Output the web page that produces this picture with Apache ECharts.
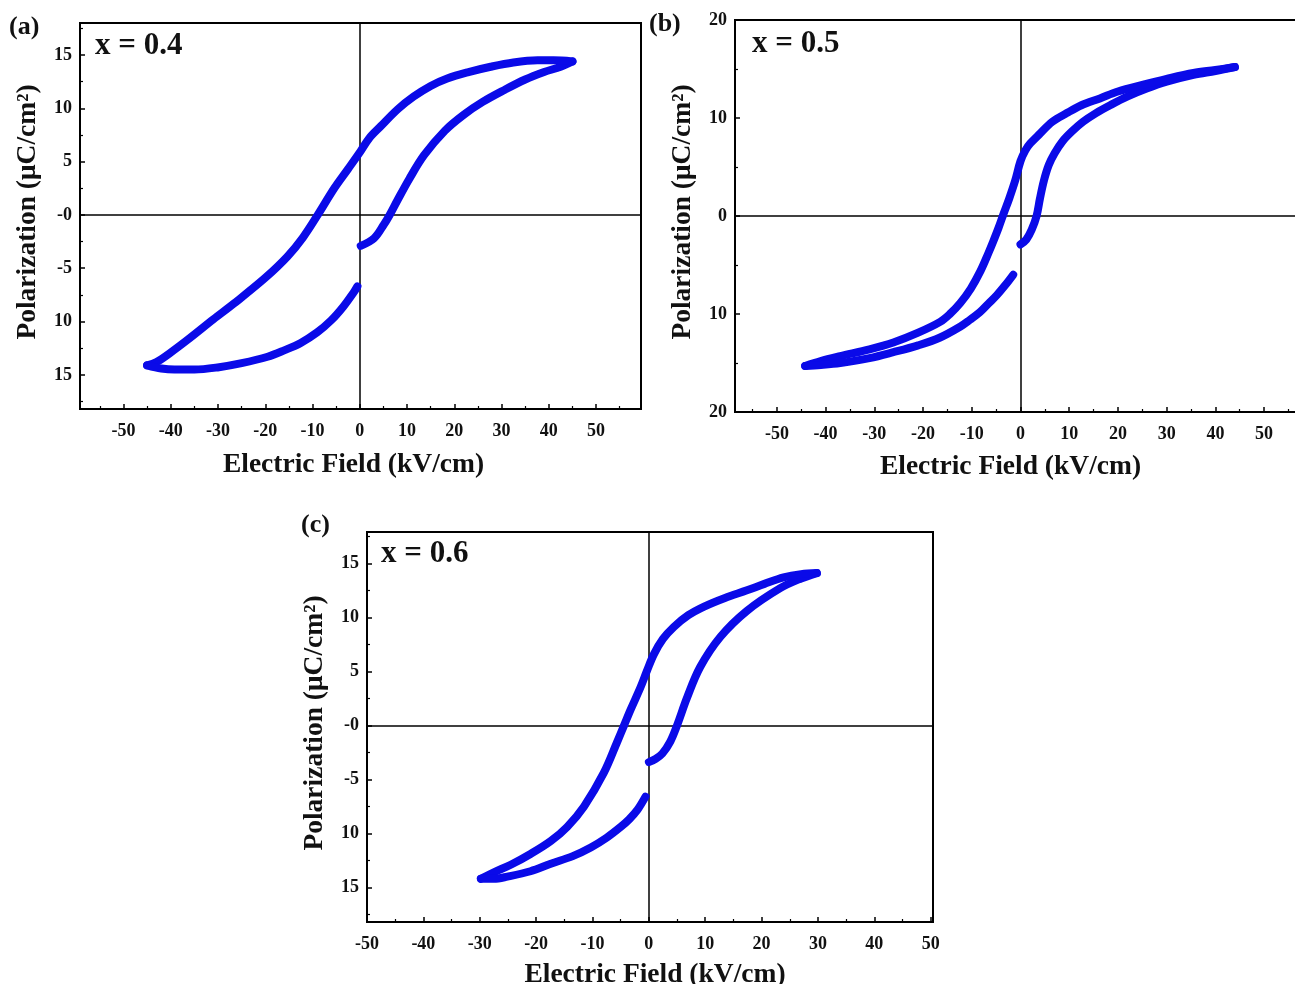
<!DOCTYPE html>
<html>
<head>
<meta charset="utf-8">
<title>P-E loops</title>
<script src="https://cdn.jsdelivr.net/npm/echarts@6.0.0/dist/echarts.min.js"></script>
<style>
  html, body { margin: 0; padding: 0; background: #fff; }
  #chart { width: 1295px; height: 984px; }
</style>
</head>
<body>
<div id="chart"></div>
<script>
  // tick values and the labels printed on the original figure
  const fieldTicks = [-50, -40, -30, -20, -10, 0, 10, 20, 30, 40, 50]
  const fieldMinorAB = [-55, -45, -35, -25, -15, -5, 5, 15, 25, 35, 45, 55]
  const fieldMinorC = [-45, -35, -25, -15, -5, 5, 15, 25, 35, 45]
  const polTicksAC = [-15, -10, -5, 0, 5, 10, 15]
  const polLabelsAC = ['15', '10', '-5', '-0', '5', '10', '15']
  const polMinorAC = [-17.5, -12.5, -7.5, -2.5, 2.5, 7.5, 12.5, 17.5]
  const polTicksB = [-20, -10, 0, 10, 20]
  const polLabelsB = ['20', '10', '0', '10', '20']
  const polMinorB = [-15, -5, 5, 15]

  // (a) x = 0.4
  const riseA_E = [0.2, 3.0, 5.1, 6.2, 8.0, 10.5, 13.6, 18, 22, 26, 30.5, 35, 39, 42.5, 45]
  const riseA_P = [-2.9, -2.2, -0.9, -0.1, 1.4, 3.4, 5.6, 7.9, 9.4, 10.6, 11.7, 12.7, 13.4, 13.9, 14.4]
  const fallA_E = [45, 41, 37.6, 32.5, 27.7, 23, 18.5, 15, 11.4, 8, 4.4, 2, 0.2, -2.5, -5.4, -8.9, -12, -15.3, -20, -26.6, -31, -36.4, -40, -43, -45]
  const fallA_P = [14.4, 14.5, 14.5, 14.3, 13.9, 13.4, 12.8, 12.1, 11.1, 9.9, 8.3, 7.2, 6.0, 4.3, 2.5, 0.0, -2.1, -3.9, -5.9, -8.3, -9.8, -11.7, -12.9, -13.8, -14.1]
  const backA_E = [-45, -42, -39.2, -35, -30.1, -25, -19.5, -16, -12.5, -9, -6.1, -3.5, -1.2, -0.5]
  const backA_P = [-14.1, -14.4, -14.5, -14.5, -14.3, -13.9, -13.3, -12.7, -12.0, -11.0, -9.9, -8.6, -7.2, -6.7]

  // (b) x = 0.5
  const riseB_E = [0, 1.2, 2.3, 3.3, 4.0, 4.8, 5.8, 7, 8.6, 10.5, 12.8, 15.5, 18.4, 22, 25.9, 30, 35.5, 40, 44]
  const riseB_P = [-2.9, -2.4, -1.4, 0, 1.8, 3.6, 5.2, 6.4, 7.6, 8.6, 9.6, 10.5, 11.3, 12.2, 13.0, 13.7, 14.4, 14.8, 15.2]
  const fallB_E = [44, 40, 35.5, 30, 25.2, 20, 16.3, 12.5, 9.5, 6.5, 4, 2, 1, 0, -1.1, -2.3, -3.5, -4.5, -5.6, -6.6, -8.2, -10.2, -12.4, -14.5, -16.5, -21, -26.1, -31, -37, -41, -44.2]
  const fallB_P = [15.2, 14.9, 14.6, 14.0, 13.4, 12.7, 12.0, 11.3, 10.5, 9.6, 8.4, 7.4, 6.7, 5.6, 3.6, 1.8, 0.2, -1.2, -2.6, -3.8, -5.6, -7.4, -8.9, -10.0, -10.8, -11.9, -12.9, -13.6, -14.3, -14.8, -15.3]
  const backB_E = [-44.2, -41, -37, -31, -26.1, -21, -16.5, -12.4, -10.4, -8.3, -6.5, -4.9, -3.2, -1.5]
  const backB_P = [-15.3, -15.2, -15.0, -14.5, -13.9, -13.2, -12.4, -11.3, -10.6, -9.8, -8.9, -8.1, -7.1, -6.0]

  // (c) x = 0.6
  const riseC_E = [0, 1.2, 2.4, 3.8, 5.0, 6.8, 9.1, 12.7, 17.4, 23.3, 27, 29.8]
  const riseC_P = [-3.4, -3.1, -2.6, -1.5, 0.0, 2.6, 5.4, 8.2, 10.6, 12.7, 13.6, 14.1]
  const fallC_E = [29.8, 27, 23.9, 20.5, 17.4, 13.5, 9.8, 7, 4.4, 2.5, 0.9, -0.3, -1.5, -3.2, -4.4, -5.6, -8.0, -11.5, -14.5, -17.4, -21, -24.5, -27.5, -29.8]
  const fallC_P = [14.1, 14.0, 13.7, 13.1, 12.5, 11.8, 11.0, 10.2, 9.1, 8.0, 6.6, 5.1, 3.5, 1.5, 0.0, -1.5, -4.4, -7.5, -9.4, -10.7, -11.9, -12.9, -13.6, -14.2]
  const backC_E = [-29.8, -27.5, -25.1, -21, -17.4, -13.5, -10.3, -7.5, -5.0, -3.5, -2.0, -0.6]
  const backC_P = [-14.2, -14.2, -14.0, -13.5, -12.8, -12.1, -11.3, -10.4, -9.4, -8.7, -7.8, -6.6]

  const FONT = 'Liberation Serif'
  const BLUE = '#0a0ae8'

  function zip (xs, ys) {
    return xs.map((x, i) => [x, ys[i]])
  }

  function branch (idx, E, P, withZeroLines) {
    let s = {
      type: 'line',
      xAxisIndex: idx,
      yAxisIndex: idx,
      data: zip(E, P),
      smooth: 0.35,
      showSymbol: false,
      silent: true,
      z: 3,
      lineStyle: { color: BLUE, width: 8, cap: 'round', join: 'round' }
    }
    if (withZeroLines) {
      s.markLine = {
        silent: true,
        symbol: ['none', 'none'],
        label: { show: false },
        lineStyle: { color: '#000', width: 1.5, type: 'solid' },
        data: [{ xAxis: 0 }, { yAxis: 0 }],
        z: 2
      }
    }
    return s
  }

  function fieldAxis (grid, min, max, gap, pad) {
    return {
      type: 'value', gridIndex: grid, min: min, max: max, position: 'bottom',
      name: 'Electric Field (kV/cm)', nameLocation: 'middle', nameGap: gap,
      nameTextStyle: { fontFamily: FONT, fontWeight: 'bold', fontSize: 27.5, color: '#111', padding: pad },
      axisLine: { show: false, onZero: false },
      splitLine: { show: false },
      axisTick: { inside: true, length: 5, customValues: fieldTicks, lineStyle: { color: '#000', width: 1.5 } },
      axisLabel: {
        customValues: fieldTicks, margin: 13,
        fontFamily: FONT, fontWeight: 'bold', fontSize: 18, color: '#111'
      }
    }
  }

  function polAxis (grid, min, max, ticks, labels) {
    return {
      type: 'value', gridIndex: grid, min: min, max: max, position: 'left',
      name: 'Polarization (μC/cm²)', nameLocation: 'middle', nameRotate: 90, nameGap: 38,
      nameTextStyle: { fontFamily: FONT, fontWeight: 'bold', fontSize: 27.5, color: '#111', padding: [0, 0, 0, 8] },
      axisLine: { show: false, onZero: false },
      splitLine: { show: false },
      axisTick: { inside: true, length: 5, customValues: ticks, lineStyle: { color: '#000', width: 1.5 } },
      axisLabel: {
        customValues: ticks, margin: 8,
        fontFamily: FONT, fontWeight: 'bold', fontSize: 18, color: '#111',
        formatter: v => labels[ticks.indexOf(v)]
      }
    }
  }

  // small unlabeled axes that only carry the minor ticks
  function minorAxis (grid, min, max, ticks, pos) {
    return {
      type: 'value', gridIndex: grid, min: min, max: max, position: pos,
      axisLine: { show: false, onZero: false },
      splitLine: { show: false },
      axisLabel: { show: false },
      axisTick: { inside: true, length: 3, customValues: ticks, lineStyle: { color: '#000', width: 1.2 } }
    }
  }

  function text (label, left, top, size) {
    return {
      type: 'text', left: left, top: top,
      style: { text: label, fontFamily: FONT, fontWeight: 'bold', fontSize: size, fill: '#111' }
    }
  }

  // keep the grids exactly where they are placed (no shrinking to fit names)
  const gridStyle = {
    show: true, borderColor: '#000', borderWidth: 2, backgroundColor: 'transparent',
    containLabel: false, outerBoundsMode: 'none'
  }

  const option = {
    animation: false,
    backgroundColor: '#fff',
    grid: [
      Object.assign({ left: 80, top: 23, width: 561, height: 386 }, gridStyle),
      Object.assign({ left: 735, top: 20, width: 571, height: 392 }, gridStyle),
      Object.assign({ left: 367, top: 532, width: 566, height: 390 }, gridStyle)
    ],
    xAxis: [
      fieldAxis(0, -59.2, 59.5, 42, [0, 14, 0, 0]),
      fieldAxis(1, -58.6, 58.6, 41, [0, 20, 0, 0]),
      fieldAxis(2, -50, 50.4, 39, [0, 0, 0, 10]),
      minorAxis(0, -59.2, 59.5, fieldMinorAB, 'bottom'),
      minorAxis(1, -58.6, 58.6, fieldMinorAB, 'bottom'),
      minorAxis(2, -50, 50.4, fieldMinorC, 'bottom')
    ],
    yAxis: [
      polAxis(0, -18.2, 18.0, polTicksAC, polLabelsAC),
      polAxis(1, -20, 20, polTicksB, polLabelsB),
      polAxis(2, -18.2, 17.9, polTicksAC, polLabelsAC),
      minorAxis(0, -18.2, 18.0, polMinorAC, 'left'),
      minorAxis(1, -20, 20, polMinorB, 'left'),
      minorAxis(2, -18.2, 17.9, polMinorAC, 'left')
    ],
    graphic: [
      text('(a)', 9, 14, 26),
      text('x = 0.4', 95, 30, 31),
      text('(b)', 649, 11, 26),
      text('x = 0.5', 752, 28, 31),
      text('(c)', 301, 512, 26),
      text('x = 0.6', 381, 538, 31)
    ],
    series: [
      branch(0, riseA_E, riseA_P, true),
      branch(0, fallA_E, fallA_P, false),
      branch(0, backA_E, backA_P, false),
      branch(1, riseB_E, riseB_P, true),
      branch(1, fallB_E, fallB_P, false),
      branch(1, backB_E, backB_P, false),
      branch(2, riseC_E, riseC_P, true),
      branch(2, fallC_E, fallC_P, false),
      branch(2, backC_E, backC_P, false)
    ]
  }

  const chart = echarts.init(document.getElementById('chart'))
  chart.setOption(option)
</script>
</body>
</html>
